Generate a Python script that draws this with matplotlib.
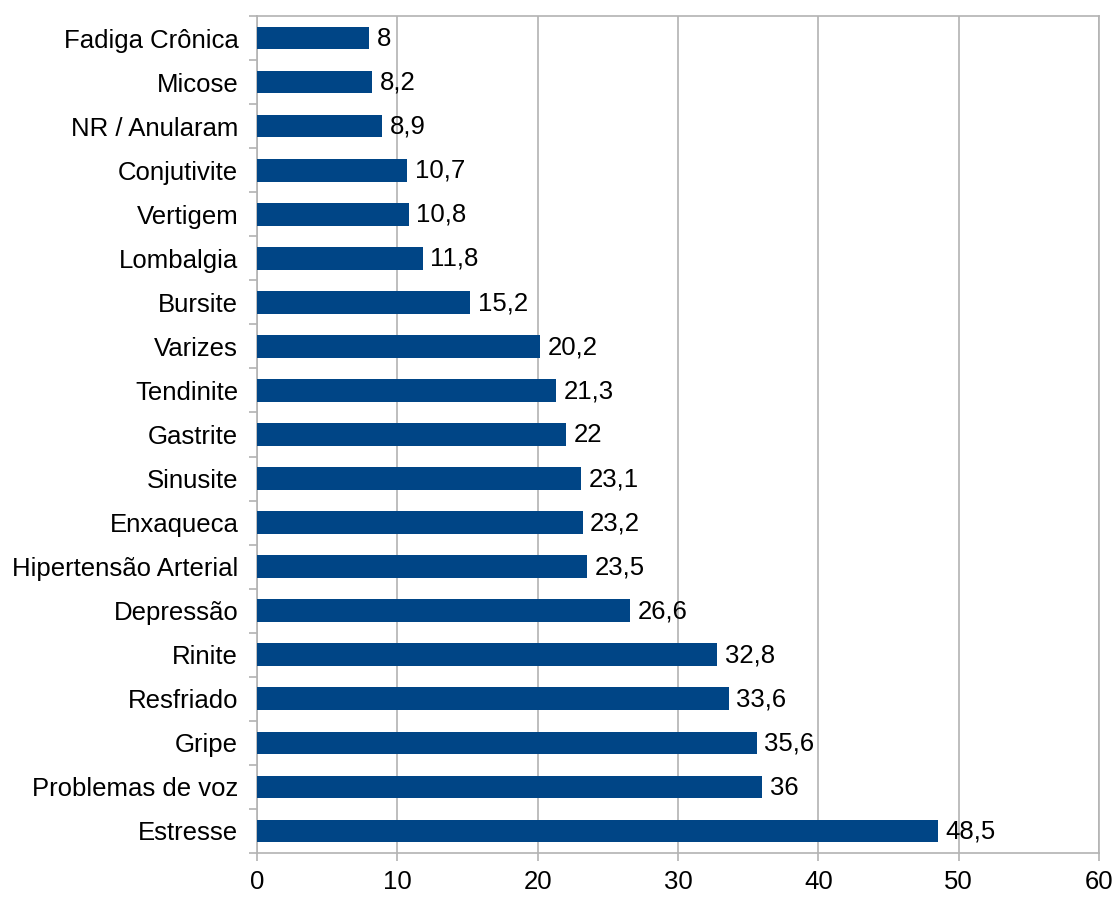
import matplotlib.pyplot as plt
import numpy as np

plt.rcParams['font.family'] = ['Liberation Sans', 'DejaVu Sans']

categorias = ['Estresse', 'Problemas de voz', 'Gripe', 'Resfriado', 'Rinite',
              'Depressão', 'Hipertensão Arterial', 'Enxaqueca', 'Sinusite',
              'Gastrite', 'Tendinite', 'Varizes', 'Bursite', 'Lombalgia',
              'Vertigem', 'Conjutivite', 'NR / Anularam', 'Micose',
              'Fadiga Crônica']
valores = [48.5, 36, 35.6, 33.6, 32.8, 26.6, 23.5, 23.2, 23.1, 22, 21.3,
           20.2, 15.2, 11.8, 10.8, 10.7, 8.9, 8.2, 8]
x_ticks = [0, 10, 20, 30, 40, 50, 60]

COR = '#004586'
CINZA = '#b3b3b3'
FS = 18.5

fig = plt.figure(figsize=(11.17, 8.99), dpi=100)
ax = fig.add_axes([257 / 1117, 1 - 853 / 899, (1099 - 257) / 1117, (853 - 16) / 899])

y = np.arange(len(categorias))
ax.barh(y, valores, height=0.515, color=COR, zorder=3)

# rótulos de valor com vírgula decimal
for yi, v in zip(y, valores):
    txt = f'{v:g}'.replace('.', ',')
    ax.annotate(txt, (v, yi), xytext=(5.5, -0.5), textcoords='offset points',
                va='center', ha='left', fontsize=FS, color='black')

ax.set_xlim(0, 60)
ax.set_ylim(-0.5, len(categorias) - 0.5)
ax.set_xticks(x_ticks)
ax.set_xticklabels([str(t) for t in x_ticks], fontsize=FS)
ax.set_yticks(y)
ax.set_yticklabels(categorias, fontsize=FS)
ax.set_yticks(np.arange(-0.5, len(categorias)), minor=True)

ax.tick_params(axis='y', which='major', length=0, pad=13.5)
ax.tick_params(axis='y', which='minor', length=6, color=CINZA, width=1.2)
ax.tick_params(axis='x', which='major', length=6, color=CINZA, width=1.2, pad=6)

ax.grid(axis='x', color=CINZA, linewidth=1.2, zorder=0)
for s in ax.spines.values():
    s.set_color(CINZA)
    s.set_linewidth(1.2)

fig.savefig('out.png', dpi=100)
